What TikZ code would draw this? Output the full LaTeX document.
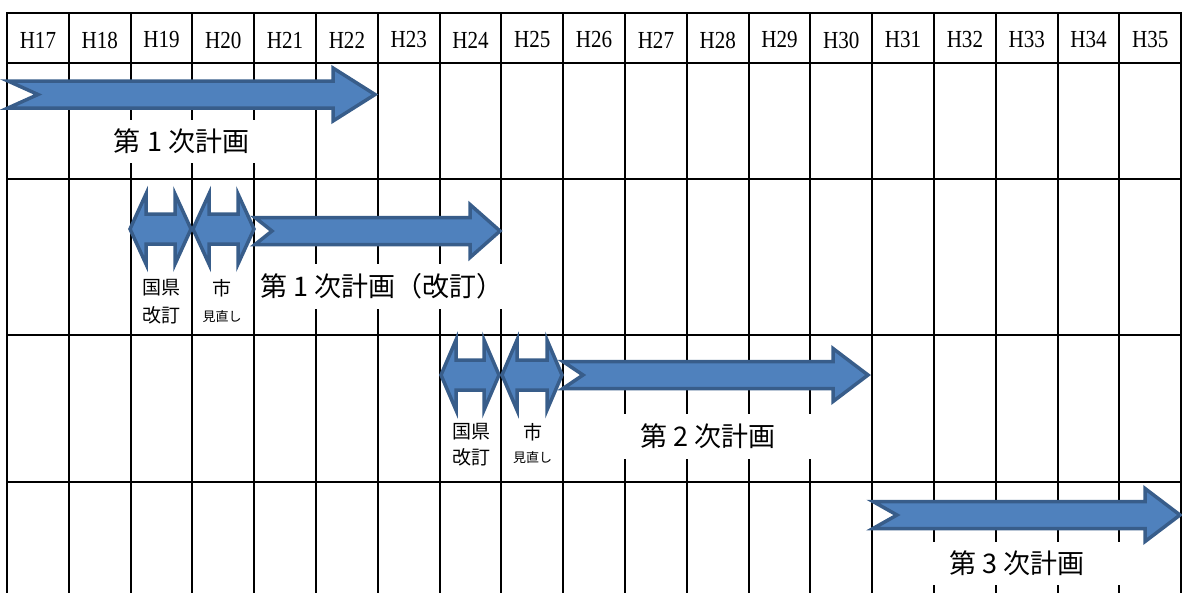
\documentclass[tikz,border=0pt]{standalone}
\usepackage{fontspec}
\setmainfont{Liberation Serif}
\newfontfamily\yearfont[FakeStretch=0.86]{Liberation Serif}
\newfontfamily\jpfont{Noto Sans CJK JP}

\definecolor{arrowfill}{HTML}{4F81BD}
\definecolor{arrowline}{HTML}{385D8A}

\tikzset{
  gridline/.style={line width=2.0pt, line cap=rect},
  planarrow/.style={fill=arrowfill, draw=arrowline, line width=3.5pt, line join=miter},
  yearlabel/.style={anchor=center, inner sep=0pt, font=\yearfont\fontsize{24.5}{28}\selectfont},
  planlabel/.style={anchor=center, inner sep=0pt, fill=white, font=\jpfont\fontsize{27}{32}\selectfont},
  smalllabel/.style={anchor=center, inner sep=0pt, font=\jpfont\fontsize{19}{23}\selectfont},
  tinylabel/.style={anchor=center, inner sep=0pt, font=\jpfont\fontsize{13}{16}\selectfont},
}

%% notched arrow: left x, tip x, centre y, head length, notch depth
\newcommand{\notcharrow}[5]{%
  \draw[planarrow] ({#1},{#3-13.5}) -- ({#2-#4},{#3-13.5}) -- ({#2-#4},{#3-26.5})
    -- ({#2},{#3}) -- ({#2-#4},{#3+26.5}) -- ({#2-#4},{#3+13.5}) -- ({#1},{#3+13.5})
    -- ({#1+#5},{#3}) -- cycle;}
%% left-right arrow: left tip x, right tip x, centre y, head length
\newcommand{\bothwayarrow}[4]{%
  \draw[planarrow] ({#1},{#3}) -- ({#1+#4},{#3-35}) -- ({#1+#4},{#3-15}) -- ({#2-#4},{#3-15})
    -- ({#2-#4},{#3-35}) -- ({#2},{#3}) -- ({#2-#4},{#3+35}) -- ({#2-#4},{#3+15})
    -- ({#1+#4},{#3+15}) -- ({#1+#4},{#3+35}) -- cycle;}

\begin{document}
\begin{tikzpicture}[x=1pt, y=-1pt, line join=round]

  %% ════ 表の罫線 ════
  \foreach \k in {0,...,19}
    \draw[gridline] ({7+61.8*\k},13) -- ({7+61.8*\k},592);
  \foreach \row in {13,63,179,335,482}
    \draw[gridline] (7,\row) -- (1182,\row);

  %% ════ 年度見出し ════
  \foreach \yr [count=\k from 0] in {17,...,35}
    \node[yearlabel] (h\yr) at ({37.9+61.8*\k},40) {H\yr};

  %% ════ 計画ラベル（白地で罫線を隠す）════
  \node[planlabel, minimum width=200, minimum height=43] (plan1) at (181.5,141.5) {第 1 次計画};
  \node[planlabel, minimum width=246, minimum height=45] (plan1rev) at (382,286) {第 1 次計画（改訂）};
  \node[planlabel, minimum width=240, minimum height=45] (plan2) at (708,436) {第 2 次計画};
  \node[planlabel, minimum width=240, minimum height=43] (plan3) at (1017,563) {第 3 次計画};

  \node[smalllabel] (kenA) at (161,288) {国県};
  \node[smalllabel] (kaiteiA) at (161,315) {改訂};
  \node[smalllabel] (shiA) at (222,288) {市};
  \node[tinylabel] (minaoshiA) at (222,317) {見直し};
  \node[smalllabel] (kenB) at (471,432) {国県};
  \node[smalllabel] (kaiteiB) at (471,457) {改訂};
  \node[smalllabel] (shiB) at (532.5,432) {市};
  \node[tinylabel] (minaoshiB) at (532.5,458) {見直し};

  %% ════ 矢印 ════
  \notcharrow{8}{375}{94.5}{42}{30}
  \bothwayarrow{130}{191}{229}{16}
  \bothwayarrow{193}{254}{229}{16}
  \notcharrow{255}{500}{231}{30}{17}
  \bothwayarrow{441}{499}{375}{15}
  \bothwayarrow{502}{562}{375}{15}
  \notcharrow{563}{868}{375}{35}{20}
  \notcharrow{873}{1180}{515}{35}{24}

  \pgfresetboundingbox
  \path[use as bounding box] (0,0) rectangle (1182,592);
\end{tikzpicture}
\end{document}
